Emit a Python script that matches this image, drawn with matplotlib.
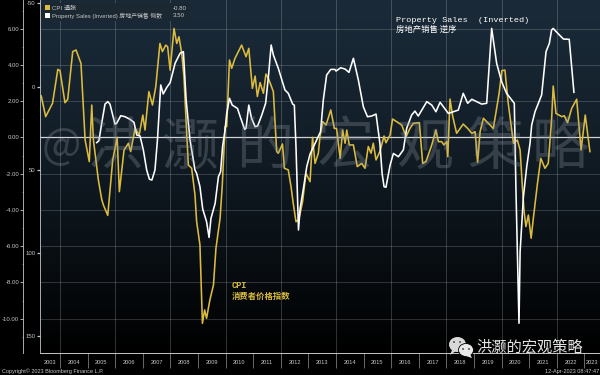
import numpy as np
import matplotlib
matplotlib.use('Agg')
import matplotlib.pyplot as plt
from matplotlib.patches import Ellipse, Rectangle, Polygon

plt.rcParams['font.family'] = ['Liberation Sans', 'Noto Sans CJK SC', 'DejaVu Sans']

# CPI, left-hand scale
cpi_years = [2003.32, 2003.48, 2003.73, 2003.92, 2004.0, 2004.18, 2004.28, 2004.46, 2004.58, 2004.76,
             2004.91, 2005.06, 2005.15, 2005.21, 2005.39, 2005.51, 2005.57, 2005.73, 2005.91, 2006.07,
             2006.15, 2006.32, 2006.48, 2006.56, 2006.72, 2006.87, 2007.0, 2007.08, 2007.22, 2007.35,
             2007.47, 2007.62, 2007.71, 2007.83, 2007.90, 2007.99, 2008.13, 2008.23, 2008.31, 2008.41,
             2008.49, 2008.59, 2008.65, 2008.77, 2008.89, 2008.95, 2009.07, 2009.16, 2009.24, 2009.31,
             2009.43, 2009.56, 2009.65, 2009.80, 2009.88, 2009.98, 2010.04, 2010.14, 2010.22, 2010.34,
             2010.58, 2010.74, 2010.84, 2010.97, 2011.07, 2011.15, 2011.25, 2011.37, 2011.46, 2011.55,
             2011.73, 2011.85, 2011.91, 2012.06, 2012.13, 2012.27, 2012.37, 2012.45, 2012.55, 2012.64,
             2012.70, 2012.79, 2012.91, 2013.06, 2013.15, 2013.24, 2013.36, 2013.42, 2013.52, 2013.64,
             2013.81, 2013.94, 2014.02, 2014.15, 2014.24, 2014.33, 2014.39, 2014.48, 2014.63, 2014.77,
             2014.93, 2015.05, 2015.17, 2015.27, 2015.35, 2015.45, 2015.59, 2015.74, 2015.81, 2015.96,
             2016.05, 2016.20, 2016.38, 2016.54, 2016.68, 2016.80, 2017.02, 2017.14, 2017.26, 2017.47,
             2017.62, 2017.71, 2017.83, 2017.91, 2018.01, 2018.05, 2018.13, 2018.23, 2018.37, 2018.61,
             2018.77, 2018.92, 2019.04, 2019.13, 2019.22, 2019.34, 2019.52, 2019.70, 2019.91, 2020.01,
             2020.12, 2020.24, 2020.43, 2020.57, 2020.67, 2020.76, 2020.81, 2020.88, 2020.97, 2021.07,
             2021.15, 2021.30, 2021.42, 2021.57, 2021.69, 2021.81, 2021.87, 2021.97, 2022.18, 2022.27,
             2022.39, 2022.54, 2022.72, 2022.88, 2023.03, 2023.20]
cpi_values = [2.29, 1.15, 1.89, 3.76, 3.69, 1.92, 2.11, 4.74, 4.83, 4.09,
              -0.14, -1.33, 1.79, -0.14, -2.35, -3.41, -3.72, -4.30, -1.24, 0.01,
              -2.99, -0.69, -0.32, -0.78, 0.50, 0.14, 1.24, 0.41, 2.53, 1.79,
              2.81, 5.19, 4.74, 5.10, 5.01, 3.72, 6.02, 5.19, 5.56, 4.64,
              3.36, 0.23, -1.52, -1.70, -3.17, -4.64, -5.93, -10.26, -9.52, -9.98,
              -8.97, -8.14, -6.12, -4.46, -2.62, 0.60, 0.60, 4.28, 3.82, 4.37,
              5.10, 4.46, 4.92, 2.71, 3.39, 2.26, 3.03, 2.44, 3.50, 3.27,
              2.53, -0.78, -0.87, -0.36, -1.70, -1.79, -2.71, -3.63, -4.65, -4.55,
              -4.19, -3.54, -1.98, -2.44, 0.01, -1.43, -0.87, 0.05, 0.87, 0.69,
              1.52, 0.50, 0.50, -1.15, 0.41, -0.32, 0.41, -0.41, -0.41, -1.61,
              -1.43, -1.70, -0.50, -0.87, -0.32, -1.24, -0.78, 0.08, -0.29, 0.14,
              1.02, 0.87, 0.69, 0.05, 0.50, 0.78, 0.82, -1.43, -1.33, -0.41,
              0.41, -0.23, -0.23, -0.41, -0.23, -1.06, 2.12, 1.15, 0.23, 0.74,
              0.50, 0.23, 0.32, -1.37, 0.32, 1.06, 0.78, 0.50, 2.44, 3.69,
              3.72, 1.89, -0.32, -0.14, -0.69, -2.90, -4.00, -4.92, -4.28, -5.56,
              -4.46, -2.53, -1.15, -1.70, -1.43, 0.96, 2.84, 1.33, 1.15, 1.20,
              0.82, 1.61, 2.11, -0.69, 1.24, -0.78]

# Property sales, inverted second scale
sales_years = [2005.33, 2005.41, 2005.51, 2005.63, 2005.73, 2005.81, 2005.99, 2006.05, 2006.20, 2006.36,
               2006.54, 2006.68, 2006.78, 2006.90, 2007.02, 2007.14, 2007.24, 2007.33, 2007.44, 2007.53,
               2007.65, 2007.74, 2007.87, 2007.99, 2008.17, 2008.35, 2008.47, 2008.57, 2008.71, 2008.89,
               2008.95, 2009.07, 2009.17, 2009.31, 2009.40, 2009.47, 2009.62, 2009.74, 2009.82, 2009.89,
               2009.98, 2010.04, 2010.14, 2010.24, 2010.43, 2010.55, 2010.69, 2010.74, 2010.84, 2010.94,
               2011.07, 2011.16, 2011.31, 2011.45, 2011.55, 2011.65, 2011.73, 2011.91, 2012.15, 2012.27,
               2012.43, 2012.49, 2012.55, 2012.64, 2012.70, 2012.82, 2012.94, 2013.06, 2013.30, 2013.44,
               2013.54, 2013.66, 2013.81, 2013.96, 2014.0, 2014.17, 2014.33, 2014.47, 2014.63, 2014.81,
               2014.99, 2015.14, 2015.29, 2015.45, 2015.59, 2015.67, 2015.74, 2015.81, 2015.96, 2016.08,
               2016.26, 2016.44, 2016.56, 2016.74, 2016.86, 2016.98, 2017.29, 2017.47, 2017.62, 2017.77,
               2018.07, 2018.43, 2018.61, 2018.77, 2018.92, 2019.28, 2019.46, 2019.64, 2019.82, 2020.0,
               2020.18, 2020.46, 2020.52, 2020.63, 2020.67, 2020.79, 2020.91, 2021.03, 2021.09, 2021.21,
               2021.45, 2021.61, 2021.73, 2021.81, 2021.87, 2022.06, 2022.24, 2022.45, 2022.62]
sales_values = [33.8, 32.6, 22.2, 10.6, 9.1, 10.6, 22.6, 22.2, 17.6, 18.2,
                19.8, 21.6, 29.2, 29.8, 38.3, 50.3, 55.9, 56.3, 50.3, 32.2,
                -0.9, 4.5, 0.5, -2.3, -14.0, -20.0, -21.0, 8.1, 32.2, 50.3,
                52.3, 60.3, 73.8, 81.4, 90.9, 79.4, 70.4, 54.3, 51.3, 36.2,
                26.2, 16.2, 7.1, 11.2, 13.2, 19.2, 25.8, 25.2, 11.2, 19.2,
                24.2, 23.8, 17.2, 10.1, -5.9, -25.0, -19.0, -10.9, 2.1, 4.1,
                10.6, 11.2, 36.3, 86.4, 73.4, 61.3, 48.3, 40.7, 32.2, 27.2,
                8.1, -6.9, -10.3, -10.3, -9.3, -11.3, -10.5, -8.5, -17.0, -3.9,
                12.2, 18.2, 17.8, 16.6, 34.2, 52.3, 60.3, 60.7, 47.3, 40.3,
                42.3, 38.2, 25.2, 17.2, 14.8, 17.8, 9.1, 11.2, 15.2, 9.5,
                16.2, 14.2, 4.1, 10.1, 7.7, 10.6, 10.1, -35.0, -14.0, -2.9,
                4.1, 10.1, 62.4, 142.6, 99.5, 66.4, 48.3, 34.2, 23.2, 15.2,
                5.1, -21.0, -26.0, -34.0, -35.0, -31.6, -28.6, -28.4, 3.5]

cpi_ticks = [6, 4, 2, 0, -2, -4, -6, -8, -10]
sales_ticks = [-50, 0, 50, 100, 150]
year_labels = list(range(2003, 2024))
grid_years = list(range(2004, 2024, 2))

YELLOW = '#dcbc3e'
GRID = '#c9d2d6'
TICK = '#c4c8ca'

fig = plt.figure(figsize=(6, 3.75), dpi=100, facecolor='black')
ax = fig.add_axes([40 / 600, 22.5 / 375, 560 / 600, 352.5 / 375])
ax.set_facecolor('black')

# dark blue fading to black
shade = np.linspace(0, 1, 256) ** 1.3
grad = np.zeros((256, 1, 3))
grad[:, 0, 0] = (26 * (1 - shade)) / 255
grad[:, 0, 1] = (42 * (1 - shade)) / 255
grad[:, 0, 2] = (56 * (1 - shade)) / 255
ax.imshow(grad, aspect='auto', extent=[0, 1, 0, 1], transform=ax.transAxes, zorder=0)
ax.set_xlim(2003.275, 2023.565)
ax.set_ylim(-11.87, 7.59)

for v in cpi_ticks:
    if v == 0:
        ax.axhline(v, color='#d0d3d3', lw=0.9, zorder=3)
    else:
        ax.axhline(v, color=GRID, lw=0.6, alpha=0.25, zorder=1)
for yr in grid_years:
    ax.axvline(yr, color=GRID, lw=0.6, alpha=0.28, zorder=1)

ax.plot(cpi_years, cpi_values, color=YELLOW, lw=1.15, zorder=4)

# spine first, moving it later throws away the tick label styling
ax.spines['left'].set_position(('outward', 12.2))
ax.spines['left'].set_color(TICK)
ax.spines['left'].set_linewidth(0.6)
ax.spines['bottom'].set_color(TICK)
ax.spines['bottom'].set_linewidth(0.7)
ax.spines['top'].set_visible(False)
ax.spines['right'].set_visible(False)

ax.set_yticks(cpi_ticks)
ax.set_yticklabels([f'{v:.2f}' for v in cpi_ticks], fontsize=4.3, color=TICK)
ax.set_yticks(np.arange(-11, 8, 1), minor=True)
ax.tick_params(axis='y', which='major', length=2.0, width=0.6, color=TICK, pad=0.8)
ax.tick_params(axis='y', which='minor', length=1.0, width=0.4, color=TICK)

# year separators plus centred labels
ax.set_xticks(year_labels[1:])
ax.set_xticklabels([])
ax.tick_params(axis='x', which='major', length=10.8, width=0.5, color='#8f9496', direction='out')
label_pos = [(2003.275 + 2004) / 2] + [y + 0.5 for y in year_labels[1:-1]] + [(2023 + 2023.565) / 2]
ax.set_xticks(label_pos, minor=True)
ax.set_xticklabels([str(y) for y in year_labels], minor=True, fontsize=4.1, color=TICK)
ax.tick_params(axis='x', which='minor', length=0, pad=5.5)

ax2 = ax.twinx()
ax2.set_ylim(160.2, -52.1)
ax2.patch.set_visible(False)
ax2.plot(sales_years, sales_values, color='white', lw=1.15, zorder=5)
ax2.yaxis.tick_left()
ax2.set_yticks(sales_ticks)
ax2.set_yticklabels([str(v) for v in sales_ticks], fontsize=4.3, color=TICK)
ax2.tick_params(axis='y', length=2.2, width=0.9, color=TICK, pad=1)
for s in ['top', 'right', 'bottom']:
    ax2.spines[s].set_visible(False)
ax2.spines['left'].set_color(TICK)
ax2.spines['left'].set_linewidth(0.6)

# overlay in pixel units for watermark, legend and notes
ov = fig.add_axes([0, 0, 1, 1], zorder=10)
ov.set_xlim(0, 600)
ov.set_ylim(375, 0)
ov.axis('off')
ov.patch.set_visible(False)

cjk = ['Noto Sans CJK SC', 'DejaVu Sans']
mono = ['Liberation Mono', 'Noto Sans CJK SC']
ov.text(61, 146, '@', fontsize=30, color='#8d969e', alpha=0.3, ha='center', va='center',
        family=cjk, fontweight='medium', zorder=1)
for cx, ch in zip([115, 190, 265, 345, 425, 495, 560], '洪灏的宏观策略'):
    ov.text(cx, 148, ch, fontsize=41, color='#8d969e', alpha=0.3, ha='center', va='center',
            family=cjk, fontweight='medium', zorder=1)

ov.add_patch(Rectangle((41, 3), 149, 18, facecolor='#1b2731', edgecolor='none', zorder=2))
ov.add_patch(Rectangle((45, 5), 5, 5, facecolor=YELLOW, edgecolor='none', zorder=3))
ov.add_patch(Rectangle((45, 13), 5, 5, facecolor='white', edgecolor='none', zorder=3))
ov.text(52, 8, 'CPI 通胀', fontsize=4.4, color=TICK, va='center', zorder=3)
ov.text(173, 8, '-0.80', fontsize=4.4, color=TICK, va='center', zorder=3)
ov.text(52, 15.5, 'Property Sales (Inverted) 房地产销售 倒数', fontsize=4.2, color=TICK, va='center', zorder=3)
ov.text(173, 15.5, '3.50', fontsize=4.4, color=TICK, va='center', zorder=3)

ov.text(396, 20.5, 'Property Sales  (Inverted)', fontsize=6.1, color='white', va='center', family=mono, zorder=3)
ov.text(396, 29.5, '房地产销售 逆序', fontsize=6, color='white', va='center', family=cjk, zorder=3)
ov.text(232, 286, 'CPI', fontsize=6.2, color=YELLOW, va='center', family=mono, fontweight='bold', zorder=3)
ov.text(232, 296, '消费者价格指数', fontsize=6, color=YELLOW, va='center', family=cjk, fontweight='bold', zorder=3)

ov.text(2, 371, 'Copyright© 2023 Bloomberg Finance L.P.', fontsize=4.0, color=TICK, va='center', zorder=3)
ov.text(599, 371, '12-Apr-2023 08:47:47', fontsize=4.0, color=TICK, va='center', ha='right', zorder=3)

# wechat mark
ov.add_patch(Ellipse((457.5, 344.5), 17, 15, facecolor='#d8d8d8', edgecolor='none', zorder=3))
ov.add_patch(Polygon([[452, 350], [450, 355], [456, 351]], facecolor='#d8d8d8', edgecolor='none', zorder=3))
ov.add_patch(Ellipse((466, 350), 15, 13, facecolor='#e8e8e8', edgecolor='black', lw=0.6, zorder=4))
ov.add_patch(Polygon([[470, 354], [472, 358], [466, 356]], facecolor='#e8e8e8', edgecolor='none', zorder=4))
for ex, ey in [(454, 342), (460, 342), (463, 349), (469, 349)]:
    ov.add_patch(Ellipse((ex, ey), 2, 2, facecolor='#555555', edgecolor='none', zorder=5))
ov.text(476, 347, '洪灏的宏观策略', fontsize=11, color='#e4e4e4', va='center', family=cjk, zorder=3)

fig.savefig('out.png', dpi=100, facecolor='black')
